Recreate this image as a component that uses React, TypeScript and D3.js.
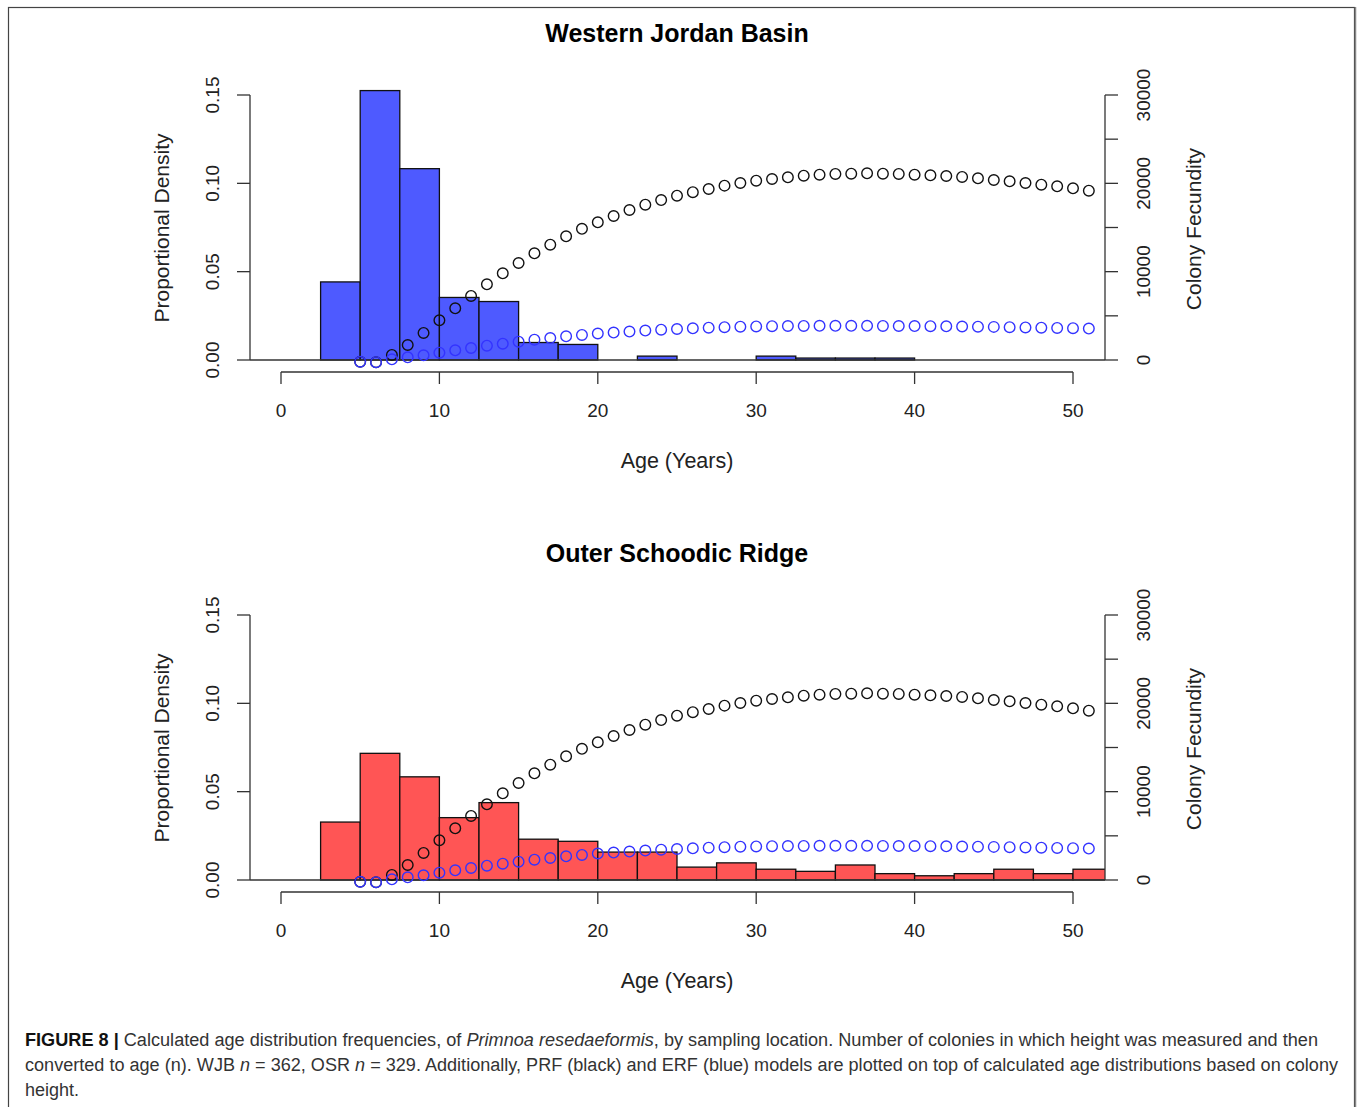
import React from "react";
import * as d3 from "d3";

// histogram bins (left edge, width 2.5 years)
const binStarts = [2.5, 5, 7.5, 10, 12.5, 15, 17.5, 20, 22.5, 25, 27.5, 30, 32.5, 35, 37.5, 40, 42.5, 45, 47.5, 50];
const wjbDensity = [0.0442, 0.1525, 0.1083, 0.0354, 0.0331, 0.0099, 0.0088, 0, 0.0022, 0, 0, 0.0022, 0.0011, 0.0011, 0.0011, 0, 0, 0, 0, 0];
const osrDensity = [0.0328, 0.0717, 0.0584, 0.0353, 0.0438, 0.0231, 0.0219, 0.0158, 0.0158, 0.0073, 0.0097, 0.0061, 0.0049, 0.0085, 0.0036, 0.0024, 0.0036, 0.0061, 0.0036, 0.0061];

// model curves (ages 5..51)
const ages = [5, 6, 7, 8, 9, 10, 11, 12, 13, 14, 15, 16, 17, 18, 19, 20, 21, 22, 23, 24, 25, 26, 27, 28, 29, 30, 31, 32, 33, 34, 35, 36, 37, 38, 39, 40, 41, 42, 43, 44, 45, 46, 47, 48, 49, 50, 51];
const prf = [-200, -250, 570, 1700, 3060, 4490, 5850, 7250, 8570, 9810, 10980, 12080, 13060, 14000, 14850, 15590, 16300, 16980, 17580, 18110, 18600, 19000, 19360, 19740, 20040, 20300, 20490, 20680, 20870, 20980, 21060, 21090, 21130, 21090, 21060, 20980, 20910, 20830, 20720, 20570, 20380, 20230, 20040, 19850, 19660, 19440, 19170];
const erf = [-200, -250, 80, 300, 530, 830, 1100, 1360, 1620, 1850, 2070, 2300, 2490, 2680, 2840, 3000, 3110, 3220, 3330, 3430, 3510, 3590, 3660, 3720, 3770, 3800, 3830, 3850, 3860, 3870, 3870, 3870, 3870, 3860, 3850, 3840, 3830, 3810, 3790, 3770, 3750, 3720, 3690, 3660, 3630, 3600, 3560];

const xTicks = [0, 10, 20, 30, 40, 50];
const densityTicks = [0, 0.05, 0.1, 0.15];
const fecTicks = [0, 5000, 10000, 15000, 20000, 25000, 30000];
const fecLabels = [0, 10000, 20000, 30000];

const FONT = "'Liberation Sans', Arial, Helvetica, sans-serif";
const AX = "#333";

const x = d3.scaleLinear().domain([0, 50]).range([281, 1073]);
const yL = d3.scaleLinear().domain([0, 0.15]).range([360, 95]);
const yR = d3.scaleLinear().domain([0, 30000]).range([360, 95]);
const plotLeft = 250;
const plotRight = 1105;

function Panel({ title, density, fill, dy, id }: { title: string; density: number[]; fill: string; dy: number; id: string }) {
  return (
    <g transform={`translate(0,${dy})`}>
      <text x={677} y={42} textAnchor="middle" fontFamily={FONT} fontWeight="bold" fontSize={25}>{title}</text>
      <clipPath id={id}>
        <rect x={plotLeft} y={60} width={plotRight - plotLeft} height={320} />
      </clipPath>
      {/* histogram */}
      <g clipPath={`url(#${id})`}>
        {binStarts.map((b, i) =>
          density[i] > 0 ? (
            <rect key={i} x={x(b)} y={yL(density[i])} width={x(b + 2.5) - x(b)} height={yL(0) - yL(density[i])}
              fill={fill} stroke="#111" strokeWidth={1.3} />
          ) : null
        )}
      </g>
      {/* baseline */}
      <line x1={plotLeft} x2={plotRight} y1={yL(0)} y2={yL(0)} stroke={AX} strokeWidth={1.3} />
      {/* left axis */}
      <line x1={plotLeft} x2={plotLeft} y1={yL(0)} y2={yL(0.15)} stroke={AX} strokeWidth={1.3} />
      {densityTicks.map((t) => (
        <g key={t}>
          <line x1={plotLeft - 13} x2={plotLeft} y1={yL(t)} y2={yL(t)} stroke={AX} strokeWidth={1.3} />
          <text transform={`translate(${219},${yL(t)}) rotate(-90)`} textAnchor="middle" fontFamily={FONT} fontSize={19} fill="#222">
            {t.toFixed(2)}
          </text>
        </g>
      ))}
      <text transform={`translate(169,228) rotate(-90)`} textAnchor="middle" fontFamily={FONT} fontSize={21} fill="#222">Proportional Density</text>
      {/* right axis */}
      <line x1={plotRight} x2={plotRight} y1={yR(0)} y2={yR(30000)} stroke={AX} strokeWidth={1.3} />
      {fecTicks.map((t) => (
        <line key={t} x1={plotRight} x2={plotRight + 13} y1={yR(t)} y2={yR(t)} stroke={AX} strokeWidth={1.3} />
      ))}
      {fecLabels.map((t) => (
        <text key={t} transform={`translate(${1150},${yR(t)}) rotate(-90)`} textAnchor="middle" fontFamily={FONT} fontSize={19} fill="#222">
          {t}
        </text>
      ))}
      <text transform={`translate(1201,229) rotate(-90)`} textAnchor="middle" fontFamily={FONT} fontSize={21} fill="#222">Colony Fecundity</text>
      {/* bottom axis */}
      <line x1={x(0)} x2={x(50)} y1={372} y2={372} stroke={AX} strokeWidth={1.3} />
      {xTicks.map((t) => (
        <g key={t}>
          <line x1={x(t)} x2={x(t)} y1={372} y2={384} stroke={AX} strokeWidth={1.3} />
          <text x={x(t)} y={417} textAnchor="middle" fontFamily={FONT} fontSize={19} fill="#222">{t}</text>
        </g>
      ))}
      <text x={677} y={468} textAnchor="middle" fontFamily={FONT} fontSize={21.5} fill="#222">Age (Years)</text>
      {/* model points */}
      {ages.map((a, i) => (
        <circle key={"p" + a} cx={x(a)} cy={yR(prf[i])} r={5.3} fill="none" stroke="#111" strokeWidth={1.4} />
      ))}
      {ages.map((a, i) => (
        <circle key={"e" + a} cx={x(a)} cy={yR(erf[i])} r={5.3} fill="none" stroke="#3333ff" strokeWidth={1.4} />
      ))}
    </g>
  );
}

export default function App() {
  return (
    <svg width={1357} height={1107} style={{ position: "absolute", left: 0, top: 0, background: "#fff" }}>
      <rect x={0} y={0} width={1357} height={1107} fill="#fff" />
      <rect x={8.5} y={7.5} width={1346} height={1120} fill="none" stroke="#444" strokeWidth={1.2} />
      <line x1={1355.5} x2={1355.5} y1={7} y2={1107} stroke="#888" strokeWidth={1.5} />
      <Panel title="Western Jordan Basin" density={wjbDensity} fill="#4e5aff" dy={0} id="c1" />
      <Panel title="Outer Schoodic Ridge" density={osrDensity} fill="#ff5555" dy={520} id="c2" />
      <g fontFamily={FONT} fontSize={18} fill="#333">
        <text x={25} y={1046} textLength={1293} lengthAdjust="spacingAndGlyphs">
          <tspan fontWeight="bold" fill="#111">FIGURE 8 |</tspan> Calculated age distribution frequencies, of <tspan fontStyle="italic">Primnoa resedaeformis</tspan>, by sampling location. Number of colonies in which height was measured and then
        </text>
        <text x={25} y={1071} textLength={1313} lengthAdjust="spacingAndGlyphs">
          converted to age (n). WJB <tspan fontStyle="italic">n</tspan> = 362, OSR <tspan fontStyle="italic">n</tspan> = 329. Additionally, PRF (black) and ERF (blue) models are plotted on top of calculated age distributions based on colony
        </text>
        <text x={25} y={1096}>height.</text>
      </g>
    </svg>
  );
}
